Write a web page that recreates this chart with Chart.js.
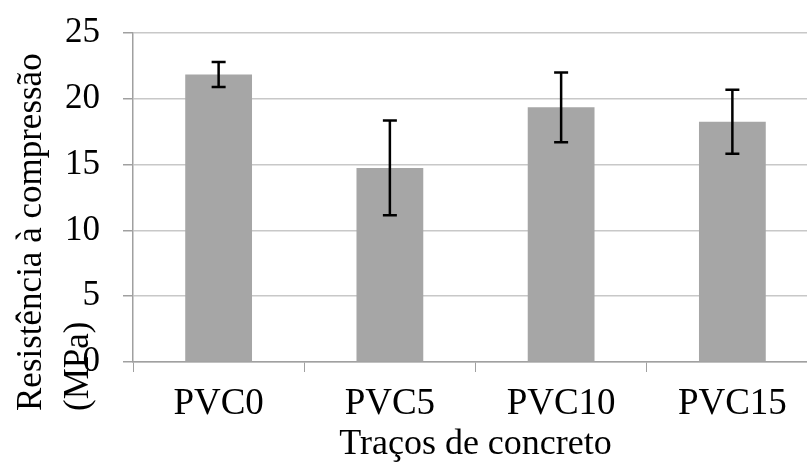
<!DOCTYPE html>
<html>
<head>
<meta charset="utf-8">
<script src="https://cdn.jsdelivr.net/npm/chart.js@4.4.1/dist/chart.umd.min.js"></script>
<style>
    html, body { margin: 0; padding: 0; background: #fff; overflow: hidden; }
    #wrap { width: 820px; height: 463px; }
</style>
</head>
<body>
<div id="wrap"><canvas id="strength-chart" width="820" height="463"></canvas></div>
<script>
const categories = ['PVC0', 'PVC5', 'PVC10', 'PVC15'];
const strength = [21.85, 14.75, 19.35, 18.25];
const deviation = [0.95, 3.6, 2.65, 2.43];
const yTicks = [0, 5, 10, 15, 20, 25];
const yTitle = ['Resistência à compressão', '(MPa)'];
const xTitle = 'Traços de concreto';

const serif = '"Liberation Serif", "Times New Roman", serif';

// error bars drawn on top of the bars, positioned through the chart scales
const errorBars = {
    id: 'errorBars',
    afterDatasetsDraw(chart) {
        const { ctx, scales: { x, y } } = chart;
        ctx.save();
        ctx.strokeStyle = '#000';
        ctx.lineWidth = 2.5;
        strength.forEach((value, i) => {
            const cx = x.getPixelForValue(i);
            const top = y.getPixelForValue(value + deviation[i]);
            const bottom = y.getPixelForValue(value - deviation[i]);
            ctx.beginPath();
            ctx.moveTo(cx, top);
            ctx.lineTo(cx, bottom);
            ctx.moveTo(cx - 7, top);
            ctx.lineTo(cx + 7, top);
            ctx.moveTo(cx - 7, bottom);
            ctx.lineTo(cx + 7, bottom);
            ctx.stroke();
        });
        ctx.restore();
    },
};

// y title is left-aligned below the axis bottom, like the original
const yAxisTitle = {
    id: 'yAxisTitle',
    afterDraw(chart) {
        const { ctx, chartArea } = chart;
        ctx.save();
        ctx.font = '35px ' + serif;
        ctx.fillStyle = '#000';
        ctx.textAlign = 'left';
        ctx.textBaseline = 'alphabetic';
        ctx.translate(0, chartArea.bottom + 49);
        ctx.rotate(-Math.PI / 2);
        yTitle.forEach((line, i) => ctx.fillText(line, 0, 41 + i * 47));
        ctx.restore();
    },
};

function createStrengthChart(canvas) {
    return new Chart(canvas, {
        type: 'bar',
        data: {
            labels: categories,
            datasets: [
                {
                    data: strength,
                    backgroundColor: '#a6a6a6',
                    borderWidth: 0,
                    categoryPercentage: 1,
                    barPercentage: 0.39,
                },
            ],
        },
        plugins: [errorBars, yAxisTitle],
        options: {
            responsive: false,
            animation: false,
            layout: {
                padding: { top: 33, left: 0, right: 2, bottom: 0 },
            },
            plugins: {
                legend: { display: false },
                tooltip: { enabled: false },
            },
            scales: {
                y: {
                    min: 0,
                    max: 25,
                    afterBuildTicks(scale) {
                        scale.ticks = yTicks.map((v) => ({ value: v }));
                    },
                    afterFit(scale) {
                        scale.width = 133;
                        scale.paddingTop = 0;
                        scale.paddingBottom = 0;
                    },
                    grid: {
                        color: '#c8c8c8',
                        lineWidth: 1.5,
                        tickLength: 10,
                        tickColor: '#a0a0a0',
                    },
                    border: {
                        color: '#a0a0a0',
                        width: 1.5,
                    },
                    ticks: {
                        color: '#000',
                        padding: 23,
                        font: { family: serif, size: 35 },
                    },
                },
                x: {
                    afterFit(scale) {
                        scale.height = 101;
                    },
                    grid: {
                        drawOnChartArea: false,
                        tickLength: 10,
                        tickColor: '#a0a0a0',
                    },
                    border: {
                        color: '#a0a0a0',
                        width: 1.5,
                    },
                    ticks: {
                        color: '#000',
                        padding: 10,
                        maxRotation: 0,
                        font: { family: serif, size: 37 },
                    },
                    title: {
                        display: true,
                        text: xTitle,
                        color: '#000',
                        padding: { top: 0, bottom: 0 },
                        font: { family: serif, size: 36, lineHeight: 1 },
                    },
                },
            },
        },
    });
}

createStrengthChart(document.getElementById('strength-chart'));
</script>
</body>
</html>
